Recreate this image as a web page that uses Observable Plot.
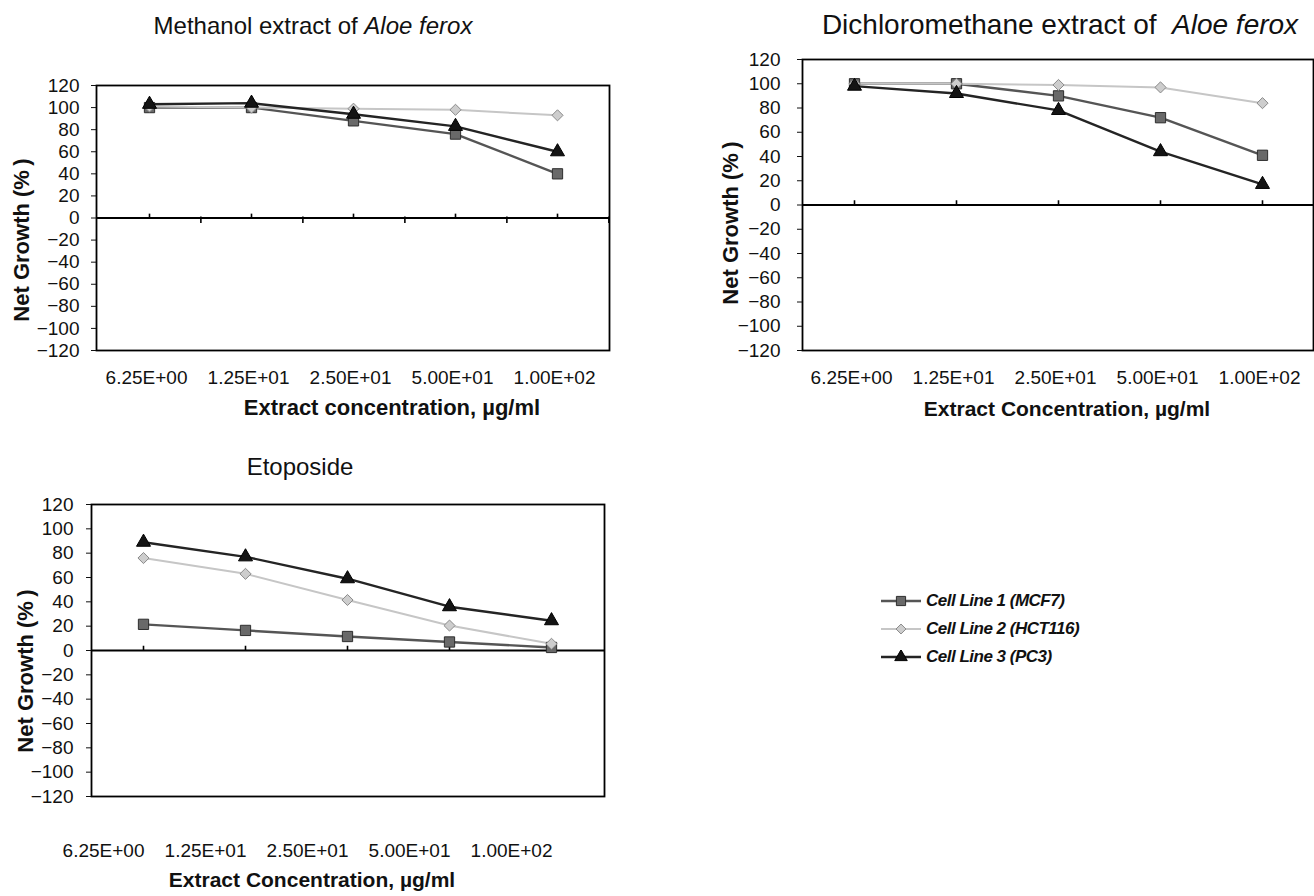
<!DOCTYPE html>
<html><head><meta charset="utf-8">
<script src="https://cdn.jsdelivr.net/npm/d3@7"></script>
<script src="https://cdn.jsdelivr.net/npm/@observablehq/plot@0.6"></script>
<style>
body{margin:0;background:#fff;}
#root{position:relative;width:1314px;height:896px;overflow:hidden;font-family:"Liberation Sans",Arial,sans-serif;color:#111;}
#root svg{position:absolute;left:0;top:0;}
.t{position:absolute;white-space:nowrap;line-height:1;}
.leg{position:absolute;display:flex;align-items:center;white-space:nowrap;font-weight:bold;font-style:italic;font-size:17px;letter-spacing:-0.5px;}
.leg svg{position:static !important;margin-right:5px;}
</style></head><body><div id="root"></div>
<script>
// ---- data ----
const concentrations = ["6.25E+00", "1.25E+01", "2.50E+01", "5.00E+01", "1.00E+02"];
const yTicks = [-120, -100, -80, -60, -40, -20, 0, 20, 40, 60, 80, 100, 120];
const cellLines = ["Cell Line 1 (MCF7)", "Cell Line 2 (HCT116)", "Cell Line 3 (PC3)"];

const methanolMCF7   = [100, 100, 88, 76, 40];
const methanolHCT116 = [101, 100, 99, 98, 93];
const methanolPC3    = [103, 104, 94, 83, 60];

const dcmMCF7   = [100, 100, 90, 72, 41];
const dcmHCT116 = [100, 100, 99, 97, 84];
const dcmPC3    = [98, 92, 78, 44, 17];

const etoMCF7   = [21.5, 16.5, 11.5, 7, 2.5];
const etoHCT116 = [76, 63, 41.5, 20.5, 5.5];
const etoPC3    = [89, 77, 59, 36, 24.5];

// ---- styles per series ----
const seriesStyle = [
  {line: "#555555", lw: 2.4, symbol: "square",   fill: "#696969", stroke: "#2e2e2e", r: 5.8},
  {line: "#c6c6c6", lw: 2,   symbol: "diamond2", fill: "#cdcdcd", stroke: "#8a8a8a", r: 5},
  {line: "#242424", lw: 2.4, symbol: "triangle", fill: "#141414", stroke: "#000000", r: 5.2}
];

const W = 1314, H = 896;
const root = document.getElementById("root");

function panel(cfg, seriesValues) {
  const marks = [
    Plot.frame({stroke: "#000", strokeWidth: 1.8}),
    Plot.axisY(yTicks, {tickSize: 5, tickPadding: cfg.yPad, fontSize: 19, label: null}),
    Plot.axisX({tickSize: 0, tickPadding: cfg.xPad, fontSize: 19, label: null, dx: cfg.xdx}),
    Plot.ruleY([0], {stroke: "#000", strokeWidth: 2.2}),
    Plot.ruleX(concentrations, {x: d => d, y1: 0, y2: 3.5, stroke: "#000", strokeWidth: 1.6})
  ];
  if (cfg.boundaryTicks) {
    marks.push(Plot.ruleX(concentrations, {x: d => d, y1: 1, y2: -5, dx: (cfg.range[1] - cfg.range[0]) / 8, stroke: "#000", strokeWidth: 1.6}));
  }
  const rowsOf = (vals, i) => concentrations.map((c, j) => ({conc: c, value: vals[j], line: cellLines[i]}));
  seriesValues.forEach((vals, i) => {
    const s = seriesStyle[i];
    marks.push(Plot.line(rowsOf(vals, i), {x: "conc", y: "value", stroke: s.line, strokeWidth: s.lw}));
  });
  seriesValues.forEach((vals, i) => {
    const s = seriesStyle[i];
    marks.push(Plot.dot(rowsOf(vals, i), {x: "conc", y: "value", symbol: () => s.symbol, fill: s.fill, stroke: s.stroke, strokeWidth: 1, r: s.r}));
  });
  const svg = Plot.plot({
    width: W, height: H,
    marginLeft: cfg.L, marginRight: W - cfg.R, marginTop: cfg.T, marginBottom: H - cfg.B,
    x: {type: "point", domain: concentrations, range: cfg.range, padding: 0},
    y: {domain: [-120, 120]},
    symbol: {type: "identity"},
    style: "background: transparent; overflow: visible; font-family: 'Liberation Sans', Arial, sans-serif; color: #111;",
    marks
  });
  root.appendChild(svg);
}

function text(html, x, y, css, rotate) {
  const d = document.createElement("div");
  d.className = "t";
  d.innerHTML = html;
  d.style.cssText += css;
  d.style.left = x + "px";
  d.style.top = y + "px";
  d.style.transform = "translate(-50%,-50%)" + (rotate ? ` rotate(${rotate}deg)` : "");
  root.appendChild(d);
}

// panel 1 (Methanol)
panel({L: 96, R: 609, T: 85, B: 350, range: [147, 558], yPad: 12, xPad: 20, xdx: -3, boundaryTicks: true},
      [methanolMCF7, methanolHCT116, methanolPC3]);
// panel 2 (Dichloromethane)
panel({L: 802, R: 1313, T: 59, B: 350, range: [853, 1263], yPad: 17, xPad: 20, xdx: -3, boundaryTicks: false},
      [dcmMCF7, dcmHCT116, dcmPC3]);
// panel 3 (Etoposide)
panel({L: 91, R: 604, T: 504, B: 796, range: [142, 552], yPad: 13, xPad: 47, xdx: -40, boundaryTicks: false},
      [etoMCF7, etoHCT116, etoPC3]);

text("Methanol extract of <i>Aloe ferox</i>", 313, 26, "font-size:24px;");
text("Dichloromethane extract of&nbsp; <i>Aloe ferox</i>", 1060, 25, "font-size:28px;");
text("Etoposide", 300, 467, "font-size:24px;");

const axCss = "font-weight:bold;";
text("Net Growth (%&thinsp;)", 22, 240, axCss + "font-size:22px;", -90);
text("Net Growth (%&thinsp;)", 731, 223, axCss + "font-size:22px;", -90);
text("Net Growth (%&thinsp;)", 26, 671, axCss + "font-size:22px;", -90);
text("Extract concentration, µg/ml", 392, 408, axCss + "font-size:22px;");
text("Extract Concentration, µg/ml", 1067, 408, axCss + "font-size:21px;");
text("Extract Concentration, µg/ml", 312, 879, axCss + "font-size:21px;");

// legend
const legendY = [601, 629, 657];
cellLines.forEach((name, i) => {
  const s = seriesStyle[i];
  const row = document.createElement("div");
  row.className = "leg";
  row.style.left = "881px";
  row.style.top = (legendY[i] - 10) + "px";
  row.style.height = "20px";
  const sw = d3.create("svg").attr("width", 40).attr("height", 14);
  sw.append("line").attr("x1", 0).attr("x2", 40).attr("y1", 7).attr("y2", 7).attr("stroke", s.line).attr("stroke-width", s.lw);
  const symType = {square: d3.symbolSquare, diamond2: d3.symbolDiamond2, triangle: d3.symbolTriangle}[s.symbol];
  sw.append("path").attr("d", d3.symbol(symType, Math.PI * s.r * s.r * 0.8)()).attr("transform", "translate(20,7)")
    .attr("fill", s.fill).attr("stroke", s.stroke);
  row.appendChild(sw.node());
  const span = document.createElement("span");
  span.textContent = name;
  row.appendChild(span);
  root.appendChild(row);
});
</script></body></html>
